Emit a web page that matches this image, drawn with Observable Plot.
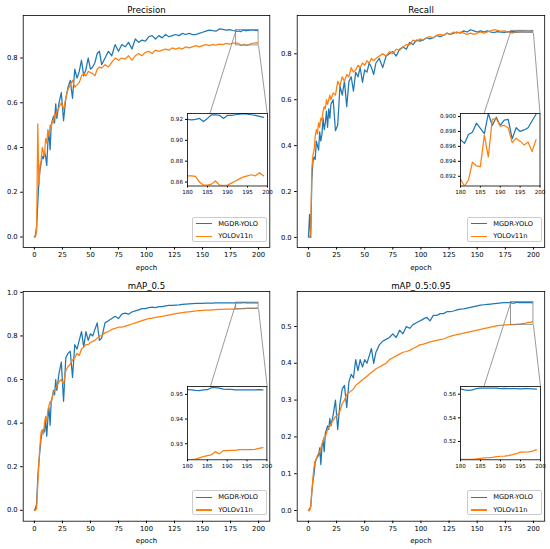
<!DOCTYPE html>
<html><head><meta charset="utf-8">
<script src="https://cdn.jsdelivr.net/npm/d3@7"></script>
<script src="https://cdn.jsdelivr.net/npm/@observablehq/plot@0.6"></script>
<style>
html,body{margin:0;padding:0;background:#fff;}
#wrap{position:relative;width:550px;height:549px;overflow:hidden;background:#fff;font-family:"DejaVu Sans",sans-serif;}
#wrap svg{position:absolute;max-width:none;}
.legend{position:absolute;box-sizing:border-box;border:0.8px solid #cccccc;border-radius:2px;background:rgba(255,255,255,0.85);font-size:6.7px;color:#000;}
.legend .row{position:absolute;left:2.7px;height:0;}
.legend .sw{position:absolute;left:0;top:-0.65px;width:15.7px;height:1.3px;}
.legend .lab{position:absolute;left:22.3px;top:-4px;line-height:8px;white-space:nowrap;}
</style></head><body><div id="wrap"></div>
<script>
// ---------------- data ----------------
const epochs = [0,1,2,3,4,5,6,7,8,9,10,11,12,13,14,15,16,17,18,19,20,
22,24,26,28,30,32,34,36,38,40,42,44,46,48,50,52,54,56,58,60,
63,66,69,72,75,78,81,84,87,90,93,96,99,102,105,108,111,114,117,120,123,126,129,132,135,138,141,144,147,150,153,156,159,162,165,168,171,174,177,
180,181,182,183,184,185,186,187,188,189,190,191,192,193,194,195,196,197,198,199];

const seriesNames = ["MGDR-YOLO","YOLOv11n"];

const precisionMGDR = [0.000,0.010,0.050,0.150,0.250,0.300,0.330,0.360,0.350,0.380,0.360,0.320,0.420,0.470,0.390,0.500,0.520,0.540,0.510,0.595,0.530,
0.600,0.645,0.520,0.620,0.670,0.700,0.620,0.750,0.710,0.740,0.790,0.720,0.750,0.800,0.750,0.760,0.780,0.820,0.830,0.770,
0.800,0.830,0.810,0.860,0.830,0.860,0.850,0.870,0.840,0.885,0.870,0.880,0.875,0.895,0.900,0.885,0.900,0.890,0.905,0.895,0.900,0.905,0.900,0.910,0.905,0.910,0.905,0.905,0.910,0.915,0.920,0.925,0.922,0.920,0.930,0.928,0.925,0.927,0.923,
0.920,0.9195,0.920,0.921,0.918,0.921,0.9245,0.9245,0.924,0.921,0.924,0.924,0.9245,0.925,0.9255,0.925,0.9245,0.924,0.923,0.922];
const precisionYOLO = [0.000,0.000,0.030,0.506,0.230,0.320,0.340,0.400,0.380,0.360,0.440,0.420,0.480,0.450,0.500,0.490,0.520,0.510,0.550,0.540,0.560,
0.580,0.600,0.570,0.620,0.660,0.680,0.700,0.670,0.680,0.690,0.720,0.730,0.720,0.740,0.735,0.730,0.720,0.750,0.760,0.755,
0.770,0.760,0.780,0.800,0.790,0.800,0.795,0.810,0.790,0.810,0.820,0.810,0.825,0.830,0.820,0.835,0.830,0.835,0.840,0.835,0.845,0.840,0.845,0.840,0.850,0.845,0.850,0.855,0.850,0.855,0.860,0.855,0.860,0.858,0.862,0.860,0.865,0.862,0.866,
0.866,0.866,0.8655,0.860,0.857,0.857,0.858,0.861,0.857,0.8565,0.857,0.859,0.861,0.863,0.865,0.866,0.867,0.866,0.869,0.866];

const recallMGDR = [0.000,0.100,0.000,0.250,0.330,0.350,0.340,0.420,0.400,0.380,0.460,0.420,0.450,0.520,0.470,0.500,0.550,0.480,0.560,0.520,0.580,
0.600,0.465,0.490,0.660,0.620,0.680,0.570,0.680,0.700,0.637,0.720,0.700,0.740,0.676,0.730,0.720,0.760,0.740,0.710,0.760,
0.780,0.740,0.790,0.800,0.810,0.790,0.820,0.830,0.820,0.850,0.840,0.860,0.855,0.860,0.870,0.865,0.870,0.880,0.875,0.880,0.890,0.885,0.890,0.895,0.890,0.900,0.895,0.905,0.900,0.895,0.900,0.895,0.900,0.895,0.893,0.897,0.895,0.893,0.896,
0.8969,0.8964,0.8976,0.8979,0.8991,0.8984,0.8977,0.9004,0.8988,0.8999,0.8988,0.8995,0.8996,0.8970,0.8985,0.8980,0.8982,0.8985,0.8994,0.9003];
const recallYOLO = [0.000,0.000,0.020,0.300,0.360,0.380,0.440,0.470,0.450,0.500,0.480,0.520,0.510,0.550,0.570,0.560,0.600,0.580,0.600,0.620,0.600,
0.630,0.620,0.680,0.660,0.700,0.680,0.710,0.700,0.740,0.720,0.730,0.750,0.740,0.760,0.750,0.770,0.760,0.780,0.770,0.780,
0.790,0.800,0.790,0.810,0.800,0.820,0.815,0.830,0.840,0.840,0.860,0.855,0.865,0.860,0.870,0.875,0.870,0.880,0.885,0.880,0.890,0.885,0.895,0.890,0.895,0.890,0.885,0.890,0.885,0.890,0.895,0.890,0.895,0.900,0.905,0.902,0.898,0.900,0.896,
0.8916,0.8907,0.8915,0.8939,0.8934,0.8933,0.8975,0.8946,0.8996,0.8997,0.8987,0.8988,0.8985,0.8965,0.8971,0.8967,0.8962,0.8966,0.8953,0.8969];

const map50MGDR = [0.000,0.010,0.030,0.150,0.220,0.280,0.330,0.360,0.370,0.360,0.420,0.340,0.420,0.470,0.390,0.500,0.520,0.550,0.530,0.600,0.550,
0.630,0.680,0.500,0.700,0.720,0.730,0.610,0.760,0.740,0.780,0.820,0.750,0.820,0.780,0.810,0.800,0.830,0.860,0.780,0.790,
0.860,0.870,0.880,0.890,0.880,0.900,0.905,0.900,0.910,0.915,0.920,0.925,0.925,0.930,0.932,0.930,0.935,0.935,0.938,0.940,0.940,0.942,0.943,0.945,0.946,0.947,0.948,0.949,0.950,0.950,0.951,0.951,0.951,0.952,0.952,0.952,0.952,0.952,0.952,
0.9519,0.9518,0.9516,0.9515,0.9518,0.9519,0.9527,0.9527,0.9525,0.9521,0.9520,0.9520,0.9518,0.9518,0.9518,0.9518,0.9518,0.9518,0.9519,0.9518];
const map50YOLO = [0.000,0.000,0.010,0.120,0.220,0.300,0.360,0.370,0.350,0.400,0.430,0.410,0.460,0.480,0.500,0.490,0.520,0.540,0.550,0.560,0.570,
0.590,0.600,0.580,0.640,0.660,0.670,0.690,0.700,0.720,0.710,0.740,0.750,0.760,0.760,0.770,0.775,0.780,0.790,0.800,0.800,
0.815,0.820,0.830,0.835,0.840,0.840,0.845,0.850,0.855,0.860,0.865,0.870,0.875,0.880,0.882,0.885,0.888,0.890,0.893,0.896,0.899,0.902,0.905,0.907,0.909,0.911,0.913,0.915,0.916,0.917,0.918,0.919,0.920,0.921,0.922,0.9225,0.923,0.9235,0.9236,
0.9236,0.9236,0.9238,0.9243,0.9248,0.9252,0.9255,0.9268,0.9259,0.9272,0.9272,0.9273,0.9273,0.9276,0.9276,0.9276,0.9276,0.9277,0.9281,0.9284];

const map5095MGDR = [0.000,0.005,0.010,0.050,0.080,0.100,0.130,0.140,0.145,0.150,0.170,0.125,0.175,0.190,0.160,0.210,0.220,0.230,0.220,0.250,0.230,
0.260,0.300,0.220,0.290,0.330,0.340,0.280,0.350,0.370,0.360,0.410,0.380,0.410,0.390,0.410,0.400,0.420,0.440,0.400,0.430,
0.450,0.460,0.465,0.470,0.480,0.470,0.490,0.480,0.500,0.495,0.505,0.510,0.515,0.520,0.525,0.515,0.530,0.530,0.535,0.535,0.540,0.540,0.542,0.545,0.547,0.548,0.550,0.552,0.554,0.556,0.558,0.559,0.560,0.561,0.562,0.563,0.564,0.565,0.565,
0.5645,0.5637,0.5633,0.5636,0.5648,0.5652,0.5652,0.5651,0.5652,0.5651,0.5648,0.5649,0.5647,0.5648,0.5648,0.5645,0.5648,0.5647,0.5645,0.5642];
const map5095YOLO = [0.000,0.000,0.010,0.050,0.090,0.120,0.135,0.140,0.150,0.155,0.160,0.170,0.180,0.190,0.200,0.200,0.210,0.220,0.225,0.230,0.235,
0.245,0.255,0.260,0.270,0.290,0.300,0.315,0.320,0.325,0.330,0.340,0.345,0.350,0.355,0.360,0.365,0.370,0.375,0.380,0.385,
0.390,0.395,0.400,0.410,0.415,0.420,0.425,0.430,0.432,0.435,0.440,0.445,0.450,0.452,0.455,0.458,0.460,0.462,0.464,0.466,0.470,0.473,0.476,0.478,0.480,0.482,0.484,0.486,0.488,0.490,0.492,0.494,0.496,0.498,0.500,0.502,0.503,0.504,0.5045,
0.5048,0.5048,0.5048,0.5048,0.5052,0.5058,0.5062,0.5063,0.5065,0.5072,0.5075,0.5077,0.5081,0.5088,0.5098,0.5110,0.5110,0.5112,0.5118,0.5131];

const titles = ["Precision","Recall","mAP_0.5","mAP_0.5:0.95"];
const xTicks = [0,25,50,75,100,125,150,175,200];
const xDomain = [-10,210];
const yTicksPrecision = [0,0.2,0.4,0.6,0.8];
const yTicksRecall = [0,0.2,0.4,0.6,0.8];
const yTicksMap50 = [0,0.2,0.4,0.6,0.8,1.0];
const yTicksMap5095 = [0,0.1,0.2,0.3,0.4,0.5];
const yDomains = [[-0.047,0.99],[-0.044,0.967],[-0.05,1.004],[-0.029,0.595]];

const insetXDomain = [180,200];
const insetXTicks = [180,185,190,195,200];
const insetYDomains = [[0.8562,0.9257],[0.8907,0.9004],[0.9235,0.9532],[0.5045,0.5665]];
const insetYTicks = [[0.86,0.88,0.90,0.92],[0.892,0.894,0.896,0.898,0.900],[0.93,0.94,0.95],[0.52,0.54,0.56]];
const insetYFormats = [".2f",".3f",".2f",".2f"];

// ---------------- layout ----------------
const C1 = "#1f77b4", C2 = "#ff7f0e", GRAY = "#808080";
const LW = 1.25;
const PW = 275;
const panels = [
  {mgdr:precisionMGDR, yolo:precisionYOLO, yTicks:yTicksPrecision, left:0, top:0, h:275, ml:22.7, mr:5.7, mt:15, mb:28, inset:{L:186.7, T:113, w:80, h:72.5}},
  {mgdr:recallMGDR, yolo:recallYOLO, yTicks:yTicksRecall, left:275, top:0, h:275, ml:21.7, mr:5.8, mt:15, mb:28, inset:{L:185, T:113, w:79.5, h:72.5}},
  {mgdr:map50MGDR, yolo:map50YOLO, yTicks:yTicksMap50, left:0, top:275, h:274, ml:22.7, mr:5.7, mt:16, mb:28.3, inset:{L:187.3, T:111, w:79.4, h:73.3}},
  {mgdr:map5095MGDR, yolo:map5095YOLO, yTicks:yTicksMap5095, left:275, top:275, h:274, ml:21.7, mr:5.8, mt:16, mb:28.3, inset:{L:185, T:111, w:80, h:73.3}}
];
panels.forEach((p,i)=>{ p.title = titles[i]; p.yDomain = yDomains[i]; p.insetY = insetYDomains[i]; p.insetTicks = insetYTicks[i]; p.insetFmt = insetYFormats[i]; });
const IM = {l:22, r:5, t:3, b:12};

const wrap = document.getElementById("wrap");
const rowsOf = vals => epochs.map((e,i)=>({epoch:e, value:vals[i]}));
const baseStyle = fs => ({background:"transparent", fontFamily:"'DejaVu Sans', sans-serif", fontSize:fs, color:"#000", overflow:"visible"});

function mainPlot(p, links){
  const a = rowsOf(p.mgdr), b = rowsOf(p.yolo);
  const zoom = [{x1:insetXDomain[0], x2:insetXDomain[1], y1:p.insetY[0], y2:p.insetY[1]}];
  return Plot.plot({
    width: PW, height: p.h,
    marginLeft: p.ml, marginRight: p.mr, marginTop: p.mt, marginBottom: p.mb,
    style: baseStyle("6.8px"),
    x: {domain: xDomain, ticks: xTicks, tickSize: 2.5, tickPadding: 2, tickFormat: d=>String(d), label: null},
    y: {domain: p.yDomain, ticks: p.yTicks, tickSize: 2.5, tickPadding: 3, tickFormat: d3.format(".1f"), label: null},
    marks: [
      Plot.line(a, {x:"epoch", y:"value", stroke:C1, strokeWidth:LW}),
      Plot.line(b, {x:"epoch", y:"value", stroke:C2, strokeWidth:LW}),
      Plot.rect(zoom, {x1:"x1", x2:"x2", y1:"y1", y2:"y2", fill:"none", stroke:GRAY, strokeWidth:0.8}),
      Plot.link(links, {x1:"x1", y1:"y1", x2:"x2", y2:"y2", stroke:GRAY, strokeWidth:0.8}),
      Plot.frame({stroke:"#000", strokeWidth:0.8}),
      Plot.text([p.title], {text:d=>d, frameAnchor:"top", lineAnchor:"middle", dy:-5.5, fontSize:8.6, fill:"#000"}),
      Plot.text(["epoch"], {text:d=>d, frameAnchor:"bottom", lineAnchor:"middle", dy:20, fontSize:7, fill:"#000"})
    ]
  });
}

function insetPlot(p){
  const sel = d => d.epoch >= insetXDomain[0];
  const a = rowsOf(p.mgdr).filter(sel), b = rowsOf(p.yolo).filter(sel);
  return Plot.plot({
    width: p.inset.w + IM.l + IM.r, height: p.inset.h + IM.t + IM.b,
    marginLeft: IM.l, marginRight: IM.r, marginTop: IM.t, marginBottom: IM.b,
    style: baseStyle("5.6px"),
    x: {domain: insetXDomain, ticks: insetXTicks, tickSize: 2, tickPadding: 2, tickFormat: d=>String(d), label: null},
    y: {domain: p.insetY, ticks: p.insetTicks, tickSize: 2, tickPadding: 2.5, tickFormat: d3.format(p.insetFmt), label: null},
    marks: [
      Plot.frame({fill:"white", stroke:"none"}),
      Plot.line(a, {x:"epoch", y:"value", stroke:C1, strokeWidth:LW, clip:true}),
      Plot.line(b, {x:"epoch", y:"value", stroke:C2, strokeWidth:LW, clip:true}),
      Plot.frame({stroke:"#000", strokeWidth:0.8})
    ]
  });
}

function inverter(s){
  if (s && typeof s.invert === "function") return s.invert;
  return d3.scaleLinear().domain(s.domain).range(s.range).invert;
}

panels.forEach(p=>{
  const probe = mainPlot(p, []);
  const ix = inverter(probe.scale("x")), iy = inverter(probe.scale("y"));
  const q = p.inset;
  const links = [
    {x1:insetXDomain[0], y1:p.insetY[1], x2:ix(q.L), y2:iy(q.T + q.h)},
    {x1:insetXDomain[1], y1:p.insetY[0], x2:ix(q.L + q.w), y2:iy(q.T)}
  ];
  const svg = mainPlot(p, links);
  svg.style.left = p.left + "px"; svg.style.top = p.top + "px";
  wrap.appendChild(svg);

  const ins = insetPlot(p);
  ins.style.left = (p.left + q.L - IM.l) + "px";
  ins.style.top = (p.top + q.T - IM.t) + "px";
  wrap.appendChild(ins);

  // legend
  const frameRight = PW - p.mr, frameBottom = p.h - p.mb;
  const lw = 74.4, lh = 25;
  const lg = document.createElement("div");
  lg.className = "legend";
  lg.style.left = (p.left + frameRight - 2.6 - lw) + "px";
  lg.style.top = (p.top + frameBottom - 5.3 - lh) + "px";
  lg.style.width = lw + "px"; lg.style.height = lh + "px";
  [C1, C2].forEach((c, k)=>{
    const row = document.createElement("div");
    row.className = "row"; row.style.top = (6 + k*12.6) + "px";
    const sw = document.createElement("span"); sw.className = "sw"; sw.style.background = c;
    const lab = document.createElement("span"); lab.className = "lab"; lab.textContent = seriesNames[k];
    row.appendChild(sw); row.appendChild(lab); lg.appendChild(row);
  });
  wrap.appendChild(lg);
});
</script>
</body></html>
